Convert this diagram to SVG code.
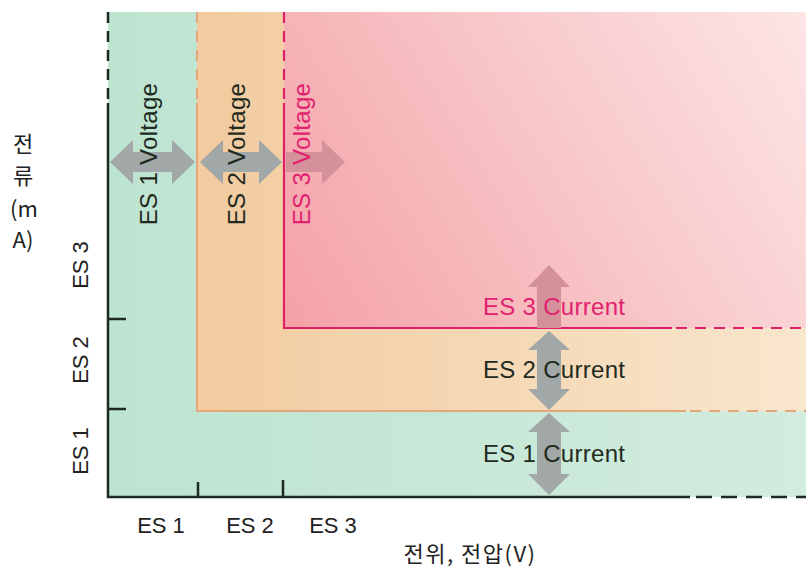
<svg xmlns="http://www.w3.org/2000/svg" width="806" height="573" viewBox="0 0 806 573">
<defs>
<linearGradient id="gGreen" x1="0" y1="0" x2="1" y2="0">
<stop offset="0" stop-color="#bde4d1"/>
<stop offset="1" stop-color="#d2ecdd"/>
</linearGradient>
<linearGradient id="gOrange" x1="0" y1="0" x2="1" y2="0">
<stop offset="0" stop-color="#f2cb9f"/>
<stop offset="1" stop-color="#f8e6cd"/>
</linearGradient>
<linearGradient id="gPink" gradientUnits="userSpaceOnUse" x1="284" y1="328" x2="806" y2="12">
<stop offset="0" stop-color="#f4a1a7"/>
<stop offset="0.55" stop-color="#f8c8c9"/>
<stop offset="1" stop-color="#fde5e6"/>
</linearGradient>
<style>
.t{font-family:"Liberation Sans","Noto Sans",Arial,sans-serif;font-size:24px;fill:#1f2a20}
.ax{font-family:"Liberation Sans","Noto Sans",Arial,sans-serif;font-size:22px;fill:#222}
.ko{font-family:"Noto Sans CJK KR","Noto Sans",sans-serif;font-size:22px;fill:#222}
.pk{fill:#e0226f}
.arr{fill:#a2a7a7}
.arr3{fill:#d4919a}
.axis{stroke:#1c2a21;stroke-width:2.5;fill:none}
.axd{stroke:#1c2a21;stroke-width:2.5;fill:none;stroke-dasharray:11 8}
.ol{stroke:#e6a57a;stroke-width:2;fill:none}
.old{stroke:#e6a57a;stroke-width:2;fill:none;stroke-dasharray:11 8}
.pl{stroke:#dd1f6c;stroke-width:2.2;fill:none}
.pld{stroke:#dd1f6c;stroke-width:2.2;fill:none;stroke-dasharray:11 8}
</style>
</defs>
<rect width="806" height="573" fill="#ffffff"/>
<g id="regions">
<rect id="es1-region" x="108" y="12" width="698" height="485" fill="url(#gGreen)"/>
<rect id="es2-region" x="197" y="12" width="609" height="399" fill="url(#gOrange)"/>
<rect id="es3-region" x="284" y="12" width="522" height="316" fill="url(#gPink)"/>
</g>
<g id="boundaries">
<line class="old" x1="197" y1="12" x2="197" y2="100"/>
<polyline class="ol" points="197,103 197,411 686,411"/>
<line class="old" x1="690" y1="411" x2="806" y2="411"/>
<line class="pld" x1="284" y1="12" x2="284" y2="100"/>
<polyline class="pl" points="284,103 284,328 672,328"/>
<line class="pld" x1="676" y1="328" x2="806" y2="328"/>
</g>
<g id="axes">
<line class="axd" x1="108" y1="12" x2="108" y2="100"/>
<polyline class="axis" points="108,103 108,497 690,497"/>
<line class="axis" style="stroke-dasharray:16 9" x1="696" y1="497" x2="806" y2="497"/>
<line class="axis" x1="108" y1="319" x2="126" y2="319"/>
<line class="axis" x1="108" y1="409" x2="126" y2="409"/>
<line class="axis" x1="198" y1="482" x2="198" y2="497"/>
<line class="axis" x1="283" y1="480" x2="283" y2="497"/>
</g>
<g id="connectors">
<path id="v1-arrow" class="arr" d="M110,162 L133,140 L133,152 L172,152 L172,140 L195,162 L172,184 L172,172 L133,172 L133,184 Z"/>
<path id="v2-arrow" class="arr" d="M200,162 L223,140 L223,152 L259,152 L259,140 L282,162 L259,184 L259,172 L223,172 L223,184 Z"/>
<path id="v3-arrow" class="arr3" d="M286,152 L322,152 L322,140 L345,162 L322,184 L322,172 L286,172 Z"/>
<path id="c3-arrow" class="arr3" d="M549,265 L570,287 L561,287 L561,328 L537,328 L537,287 L528,287 Z"/>
<path id="c2-arrow" class="arr" d="M549,331 L570,350 L561,350 L561,389 L570,389 L549,410 L528,389 L537,389 L537,350 L528,350 Z"/>
<path id="c1-arrow" class="arr" d="M549,413 L570,432 L561,432 L561,474 L570,474 L549,495 L528,474 L537,474 L537,432 L528,432 Z"/>
</g>
<g id="voltage-labels">
<text class="t" transform="translate(157,154) rotate(-90)" text-anchor="middle" style="letter-spacing:0.3px">ES 1 Voltage</text>
<text class="t" transform="translate(245,154) rotate(-90)" text-anchor="middle" style="letter-spacing:0.3px">ES 2 Voltage</text>
<text class="t pk" transform="translate(310,154) rotate(-90)" text-anchor="middle" style="letter-spacing:0.3px">ES 3 Voltage</text>
</g>
<g id="current-labels">
<text class="t pk" x="483" y="315" style="letter-spacing:0.3px">ES 3 Current</text>
<text class="t" x="483" y="378" style="letter-spacing:0.3px">ES 2 Current</text>
<text class="t" x="483" y="462" style="letter-spacing:0.3px">ES 1 Current</text>
</g>
<g id="axis-labels">
<text class="ax" transform="translate(88,265) rotate(-90)" text-anchor="middle">ES 3</text>
<text class="ax" transform="translate(88,360) rotate(-90)" text-anchor="middle">ES 2</text>
<text class="ax" transform="translate(88,451) rotate(-90)" text-anchor="middle">ES 1</text>
<text class="ax" x="161" y="533" text-anchor="middle">ES 1</text>
<text class="ax" x="250" y="533" text-anchor="middle">ES 2</text>
<text class="ax" x="333" y="533" text-anchor="middle">ES 3</text>
</g>
<g id="y-title">
<text class="ko" x="23" y="152" text-anchor="middle">전</text>
<text class="ko" x="23" y="184" text-anchor="middle">류</text>
<text class="ko" x="24" y="217" text-anchor="middle">(m</text>
<text class="ko" x="23" y="248" text-anchor="middle">A)</text>
</g>
<g id="x-title">
<text class="ko" x="470" y="562" text-anchor="middle" style="letter-spacing:1.5px">전위, 전압(V)</text>
</g>
</svg>
